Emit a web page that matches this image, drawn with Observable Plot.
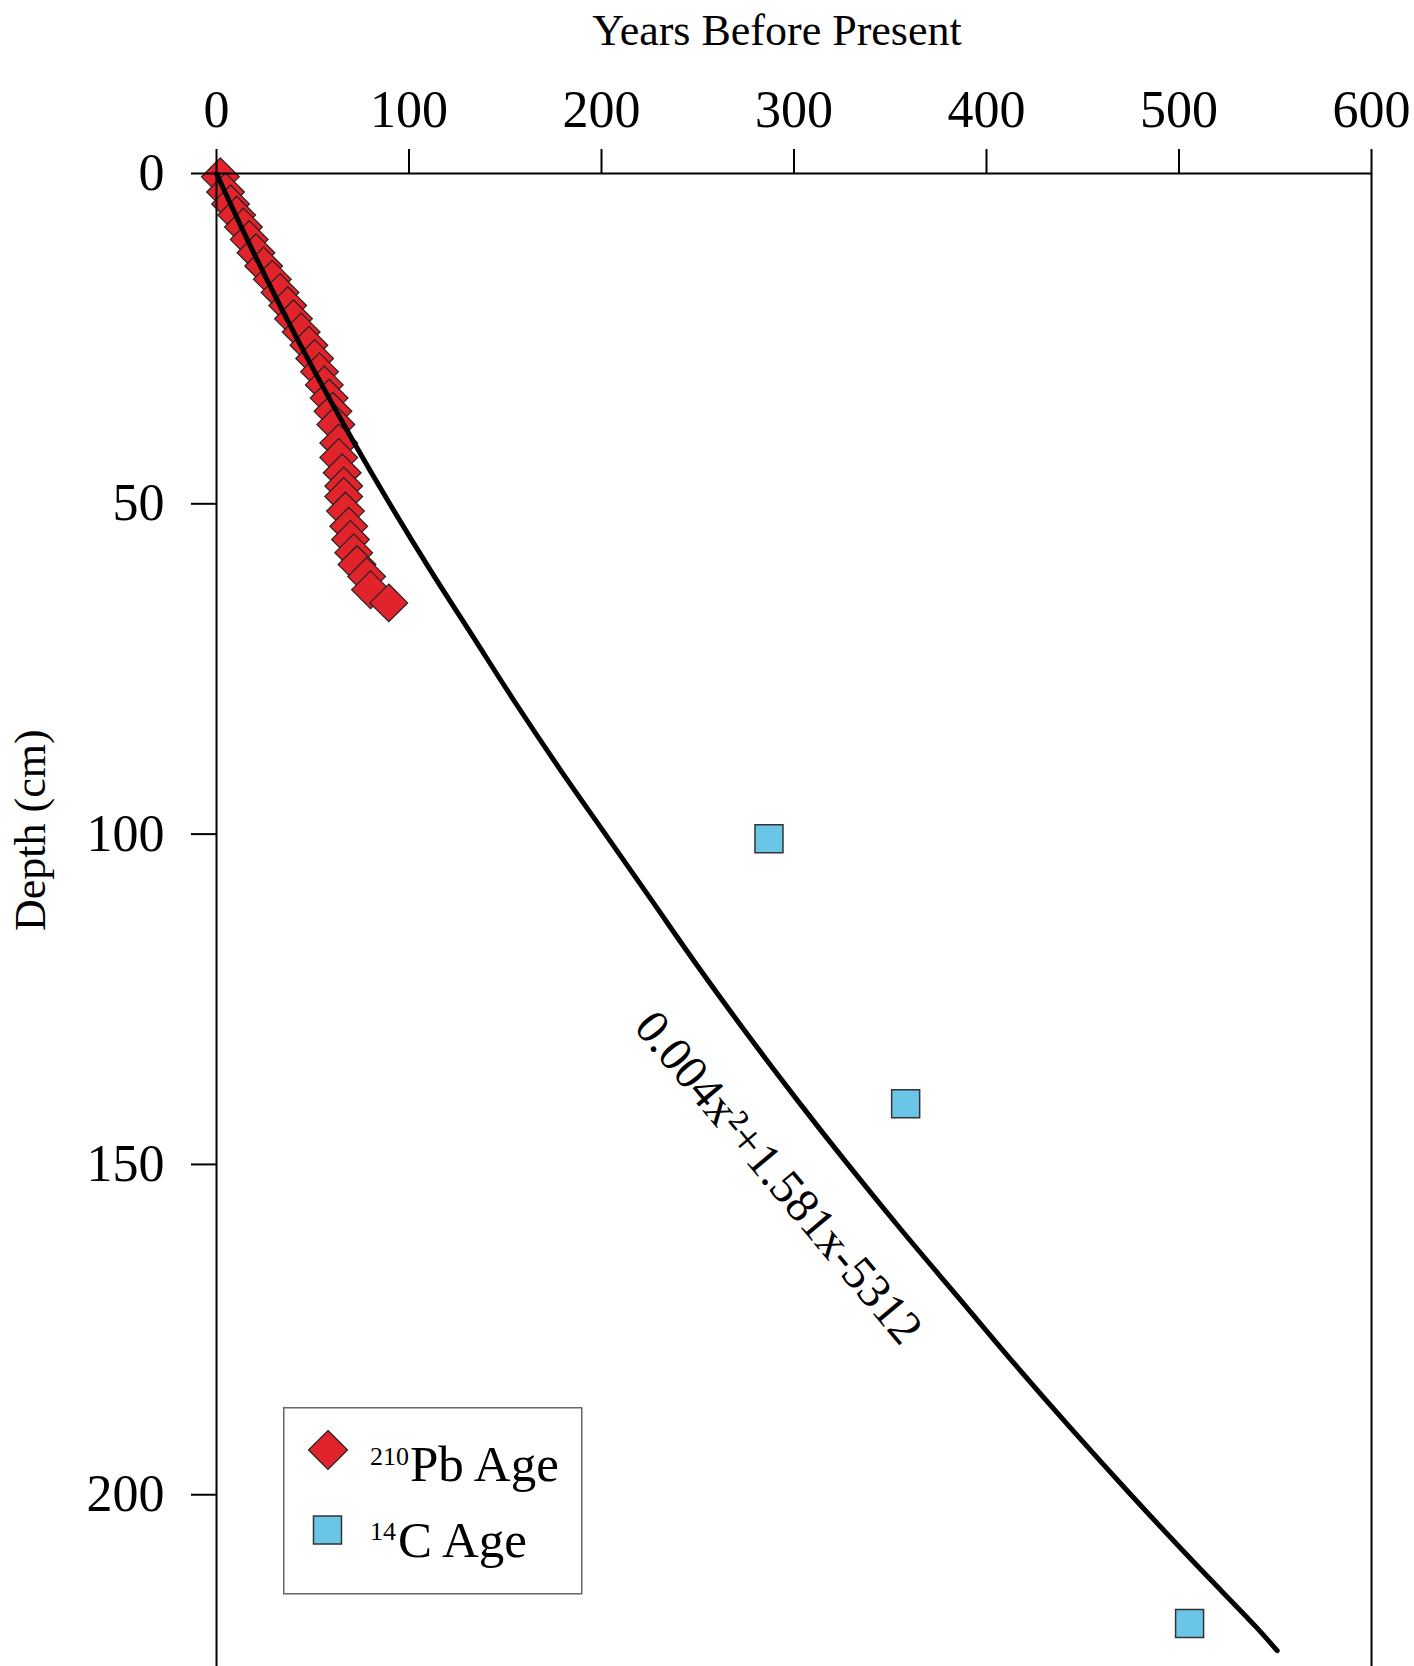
<!DOCTYPE html>
<html>
<head>
<meta charset="utf-8">
<script src="https://cdn.jsdelivr.net/npm/d3@7"></script>
<script src="https://cdn.jsdelivr.net/npm/@observablehq/plot@0.6"></script>
<style>
  html, body { margin: 0; padding: 0; background: #fff; }
  #wrap { position: relative; width: 1414px; height: 1666px; overflow: hidden; font-family: "Liberation Serif", serif; }
</style>
</head>
<body>
<div id="wrap"></div>
<script>
// ---- data ----
const xTicks = [0, 100, 200, 300, 400, 500, 600];
const yTicks = [0, 50, 100, 150, 200];

// 210Pb ages (years BP) vs depth (cm)
const pbDepth = [0.5, 2.8, 4.6, 6.3, 8.1, 10, 12, 14, 16, 18, 20, 22, 24, 26, 28, 30, 32, 34, 36, 38, 40.8, 43, 45.3, 47.3, 48.9, 51.1, 53.4, 55.4, 57.4, 59.2, 61, 63, 65];
const pbAge   = [2, 4.7, 7.3, 10.5, 14, 17, 20.5, 24.5, 29, 33, 37, 40, 44, 48, 51, 53.5, 56, 58.5, 60.5, 62, 63.5, 63.5, 65.3, 66.1, 66.1, 67, 68.7, 69.6, 71.3, 73, 78, 80, 89.5];

// 14C ages
const c14Depth = [100.7, 140.8, 219.5];
const c14Age   = [287, 358, 505.5];

// fitted age-depth curve
const fitDepth = [0, 10, 20, 30, 40, 50, 60, 70, 80, 90, 100, 110, 120, 130, 140, 150, 160, 170, 180, 190, 200, 210, 220, 223.6];
const fitAge   = [0, 16, 33, 51, 70, 90, 111, 133, 155, 178, 202, 226, 250, 275, 301, 328, 356, 385, 414, 444, 475, 507, 540, 551];

// equation annotation (position in data units)
const eqText = "0.004x\u00B2+1.581x-5312";
const eqAge = [292];
const eqDepth = [152];

const xTitle = "Years Before Present";
const yTitle = "Depth (cm)";
const legendSup = ["210", "14"];
const legendMain = ["Pb Age", "C Age"];

// ---- build tables ----
const pb = pbDepth.map((d, i) => ({depth: d, age: pbAge[i]}));
const c14 = c14Depth.map((d, i) => ({depth: d, age: c14Age[i]}));
const fit = fitDepth.map((d, i) => ({depth: d, age: fitAge[i]}));
const eq = eqAge.map((a, i) => ({age: a, depth: eqDepth[i], text: eqText}));

const red = "#E1232B";
const blue = "#6BC5E6";
const font = '"Liberation Serif", serif';

const chart = Plot.plot({
  width: 1414,
  height: 1666,
  marginLeft: 216,
  marginRight: 43,
  marginTop: 173,
  marginBottom: 0,
  style: {fontFamily: font, fontSize: "52px", color: "#000", background: "#fff", overflow: "visible", position: "absolute", left: "0px", top: "0px"},
  x: {domain: [xTicks[0], xTicks[xTicks.length - 1]]},
  y: {domain: [0, 226], reverse: true},
  marks: [
    Plot.dot(pb, {x: "age", y: "depth", symbol: "diamond2", r: 17, fill: red, stroke: "#222", strokeWidth: 1.2}),
    Plot.dot(c14, {x: "age", y: "depth", symbol: "square", r: 15.8, fill: blue, stroke: "#333", strokeWidth: 1.5}),
    Plot.line(fit, {x: "age", y: "depth", curve: "catmull-rom", stroke: "#000", strokeWidth: 5}),
    Plot.text(eq, {x: "age", y: "depth", text: "text", rotate: 50, fontSize: 48, fill: "#000"}),
    Plot.ruleY([yTicks[0]], {stroke: "#000", strokeWidth: 2}),
    Plot.ruleX([xTicks[0], xTicks[xTicks.length - 1]], {stroke: "#000", strokeWidth: 2}),
    Plot.axisX({anchor: "top", ticks: xTicks, tickSize: 25, tickPadding: 22, label: null, strokeWidth: 2, fontSize: 52, tickFormat: d => String(d)}),
    Plot.axisY({anchor: "left", ticks: yTicks, tickSize: 25, tickPadding: 27, label: null, strokeWidth: 2, fontSize: 52, tickFormat: d => String(d)}),
    Plot.text([xTitle], {frameAnchor: "top", dx: -17, dy: -160, fontSize: 44, fill: "#000"}),
    Plot.text([yTitle], {frameAnchor: "left", rotate: -90, dx: -186, dy: 11, fontSize: 44, fill: "#000"})
  ]
});
document.getElementById("wrap").appendChild(chart);

// ---- legend ----
const ns = "http://www.w3.org/2000/svg";
const lg = document.createElementNS(ns, "svg");
lg.setAttribute("width", 300);
lg.setAttribute("height", 188);
lg.setAttribute("style", "position:absolute;left:283px;top:1407px;");
lg.innerHTML = `
  <rect x="0.75" y="0.75" width="298" height="186" fill="#fff" stroke="#666" stroke-width="1.5"/>
  <path d="M45,23.5 L64.5,43 L45,62.5 L25.5,43 Z" fill="${red}" stroke="#222" stroke-width="1.2"/>
  <rect x="30.5" y="109" width="28" height="28" fill="${blue}" stroke="#333" stroke-width="1.5"/>
  <text font-family='${font}' fill="#000">
    <tspan x="87" y="58" font-size="26">${legendSup[0]}</tspan><tspan x="127" y="74" font-size="51">${legendMain[0]}</tspan>
  </text>
  <text font-family='${font}' fill="#000">
    <tspan x="87" y="133" font-size="26">${legendSup[1]}</tspan><tspan x="115" y="150" font-size="51">${legendMain[1]}</tspan>
  </text>`;
document.getElementById("wrap").appendChild(lg);
</script>
</body>
</html>
